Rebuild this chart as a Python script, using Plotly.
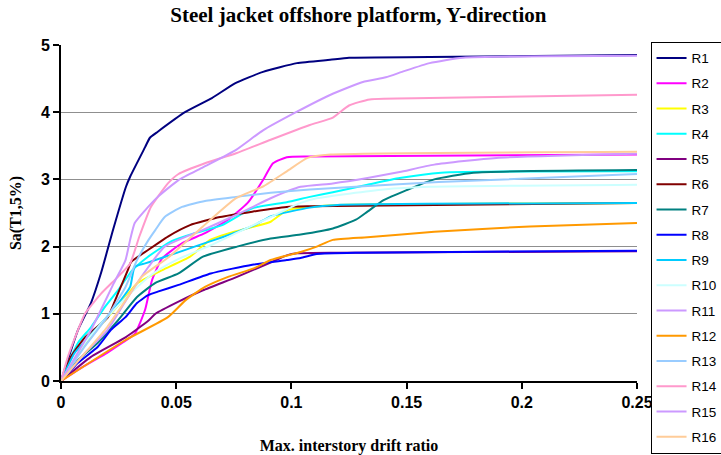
import plotly.graph_objects as go

# Pushover capacity curves: spectral acceleration vs. max interstory drift ratio
r1_drift = [0, 0.0074, 0.013, 0.0174, 0.0226, 0.0282, 0.030, 0.0365, 0.0386, 0.042, 0.0538, 0.0655, 0.0755, 0.0877, 0.1024, 0.1168, 0.125, 0.16, 0.25]
r1_sa = [0, 0.76, 1.16, 1.61, 2.25, 2.89, 3.04, 3.48, 3.62, 3.71, 4.0, 4.21, 4.43, 4.6, 4.73, 4.78, 4.81, 4.82, 4.85]

r2_drift = [0, 0.01, 0.02, 0.0265, 0.032, 0.0365, 0.0395, 0.0438, 0.0525, 0.0625, 0.0725, 0.081, 0.0877, 0.092, 0.098, 0.108, 0.25]
r2_sa = [0, 0.22, 0.42, 0.565, 0.7, 1.06, 1.5, 1.82, 2.05, 2.2, 2.4, 2.65, 2.99, 3.24, 3.33, 3.34, 3.37]

r3_drift = [0, 0.008, 0.016, 0.028, 0.033, 0.044, 0.056, 0.0647, 0.073, 0.083, 0.091, 0.098, 0.108, 0.12, 0.25]
r3_sa = [0, 0.42, 0.78, 1.25, 1.45, 1.65, 1.85, 2.1, 2.2, 2.29, 2.37, 2.54, 2.59, 2.62, 2.65]

r4_drift = [0, 0.0017, 0.0074, 0.013, 0.019, 0.0247, 0.031, 0.0378, 0.048, 0.058, 0.07, 0.083, 0.098, 0.108, 0.118, 0.133, 0.147, 0.165, 0.25]
r4_sa = [0, 0.16, 0.57, 0.8, 1.1, 1.35, 1.65, 1.85, 2.08, 2.2, 2.32, 2.57, 2.66, 2.74, 2.81, 2.92, 3.02, 3.1, 3.12]

r5_drift = [0, 0.013, 0.028, 0.038, 0.041, 0.051, 0.0616, 0.0764, 0.0907, 0.098, 0.1024, 0.12, 0.25]
r5_sa = [0, 0.36, 0.65, 0.9, 1.0, 1.18, 1.35, 1.55, 1.76, 1.87, 1.9, 1.91, 1.93]

r6_drift = [0, 0.0043, 0.0104, 0.019, 0.0204, 0.0247, 0.029, 0.0304, 0.0378, 0.0464, 0.056, 0.069, 0.083, 0.098, 0.108, 0.25]
r6_sa = [0, 0.36, 0.65, 0.9, 0.95, 1.3, 1.65, 1.77, 1.95, 2.15, 2.32, 2.44, 2.52, 2.59, 2.6, 2.65]

r7_drift = [0, 0.0074, 0.016, 0.0247, 0.033, 0.041, 0.051, 0.0616, 0.0764, 0.091, 0.104, 0.118, 0.128, 0.133, 0.14, 0.15, 0.162, 0.179, 0.25]
r7_sa = [0, 0.31, 0.57, 0.9, 1.25, 1.46, 1.6, 1.85, 2.0, 2.12, 2.18, 2.27, 2.4, 2.52, 2.69, 2.84, 3.0, 3.1, 3.14]

r8_drift = [0, 0.0074, 0.016, 0.0217, 0.028, 0.033, 0.038, 0.042, 0.051, 0.065, 0.083, 0.098, 0.104, 0.111, 0.13, 0.25]
r8_sa = [0, 0.27, 0.51, 0.76, 0.95, 1.16, 1.28, 1.33, 1.43, 1.6, 1.73, 1.8, 1.83, 1.89, 1.91, 1.94]

r9_drift = [0, 0.006, 0.016, 0.025, 0.030, 0.032, 0.0365, 0.041, 0.048, 0.058, 0.07, 0.084, 0.091, 0.108, 0.12, 0.25]
r9_sa = [0, 0.42, 0.8, 1.16, 1.4, 1.7, 1.75, 1.8, 1.88, 2.0, 2.14, 2.32, 2.45, 2.58, 2.62, 2.65]

r10_drift = [0, 0.01, 0.02, 0.03, 0.04, 0.05, 0.065, 0.076, 0.091, 0.104, 0.111, 0.14, 0.16, 0.25]
r10_sa = [0, 0.55, 0.95, 1.3, 1.6, 1.8, 2.02, 2.2, 2.44, 2.65, 2.72, 2.85, 2.89, 2.92]

r11_drift = [0, 0.01, 0.02, 0.03, 0.038, 0.045, 0.0616, 0.076, 0.091, 0.104, 0.118, 0.133, 0.147, 0.162, 0.189, 0.25]
r11_sa = [0, 0.4, 0.75, 1.3, 1.7, 2.0, 2.25, 2.47, 2.72, 2.89, 2.94, 3.02, 3.11, 3.22, 3.32, 3.38]

r12_drift = [0, 0.028, 0.0464, 0.054, 0.0625, 0.0725, 0.084, 0.091, 0.104, 0.111, 0.118, 0.133, 0.162, 0.2035, 0.25]
r12_sa = [0, 0.61, 0.95, 1.2, 1.4, 1.55, 1.68, 1.8, 1.92, 2.0, 2.1, 2.14, 2.22, 2.3, 2.35]

r13_drift = [0, 0.01, 0.02, 0.028, 0.033, 0.038, 0.041, 0.045, 0.0525, 0.0625, 0.076, 0.091, 0.108, 0.164, 0.25]
r13_sa = [0, 0.5, 0.95, 1.4, 1.8, 2.1, 2.25, 2.44, 2.59, 2.68, 2.74, 2.8, 2.85, 2.96, 3.08]

r14_drift = [0, 0.003, 0.0074, 0.0104, 0.0174, 0.0247, 0.030, 0.034, 0.039, 0.042, 0.0464, 0.051, 0.0625, 0.076, 0.091, 0.108, 0.118, 0.125, 0.134, 0.16, 0.25]
r14_sa = [0, 0.36, 0.76, 1.0, 1.3, 1.55, 1.75, 2.15, 2.59, 2.74, 2.94, 3.08, 3.24, 3.39, 3.59, 3.81, 3.92, 4.1, 4.19, 4.21, 4.26]

r15_drift = [0, 0.013, 0.023, 0.028, 0.030, 0.032, 0.0365, 0.042, 0.051, 0.0616, 0.076, 0.0877, 0.102, 0.117, 0.131, 0.141, 0.148, 0.16, 0.1745, 0.25]
r15_sa = [0, 0.76, 1.46, 1.8, 2.1, 2.35, 2.54, 2.74, 2.99, 3.18, 3.44, 3.73, 4.0, 4.26, 4.45, 4.52, 4.6, 4.73, 4.81, 4.84]

r16_drift = [0, 0.01, 0.02, 0.03, 0.035, 0.047, 0.0616, 0.076, 0.088, 0.098, 0.107, 0.117, 0.25]
r16_sa = [0, 0.4, 0.8, 1.3, 1.55, 1.85, 2.3, 2.72, 2.9, 3.12, 3.32, 3.37, 3.41]

series_names = ["R1", "R2", "R3", "R4", "R5", "R6", "R7", "R8",
                "R9", "R10", "R11", "R12", "R13", "R14", "R15", "R16"]
series_colors = ["#000080", "#FF00FF", "#FFFF00", "#00FFFF", "#800080", "#800000",
                 "#008080", "#0000FF", "#00CCFF", "#CCFFFF", "#CC99FF", "#FF9900",
                 "#99CCFF", "#FF99CC", "#CC99FF", "#FFCC99"]
series_data = [
    (r1_drift, r1_sa), (r2_drift, r2_sa), (r3_drift, r3_sa), (r4_drift, r4_sa),
    (r5_drift, r5_sa), (r6_drift, r6_sa), (r7_drift, r7_sa), (r8_drift, r8_sa),
    (r9_drift, r9_sa), (r10_drift, r10_sa), (r11_drift, r11_sa), (r12_drift, r12_sa),
    (r13_drift, r13_sa), (r14_drift, r14_sa), (r15_drift, r15_sa), (r16_drift, r16_sa),
]

x_ticks = [0, 0.05, 0.1, 0.15, 0.2, 0.25]
x_tick_text = ["0", "0.05", "0.1", "0.15", "0.2", "0.25"]
y_ticks = [0, 1, 2, 3, 4, 5]

fig = go.Figure()
for name, color, (xs, ys) in zip(series_names, series_colors, series_data):
    fig.add_trace(go.Scatter(
        x=xs, y=ys, name=name, mode="lines", legendgroup=name,
        line=dict(color=color, width=2, shape="spline", smoothing=0.5),
    ))

tick_font = dict(family="Liberation Sans, Arial", size=16, color="black", weight="bold")
title_font = dict(family="Liberation Serif, Times New Roman", size=16, color="black", weight="bold")

fig.update_layout(
    width=721, height=455,
    margin=dict(l=61, r=84, t=45, b=74, autoexpand=False),
    paper_bgcolor="white", plot_bgcolor="white",
    title=dict(
        text="<b>Steel jacket offshore platform, Y-direction</b>",
        x=0.497, xanchor="center", y=0.967, yanchor="middle",
        font=dict(family="Liberation Serif, Times New Roman", size=21, color="black"),
    ),
    xaxis=dict(
        range=[0, 0.25], tickvals=x_ticks, ticktext=x_tick_text,
        showgrid=False, zeroline=False,
        showline=True, linecolor="black", linewidth=2,
        ticks="outside", ticklen=6, tickwidth=2, tickcolor="black",
        tickfont=tick_font,
        title=dict(text="Max. interstory drift ratio", font=title_font, standoff=31),
    ),
    yaxis=dict(
        range=[0, 5], tickvals=y_ticks,
        showgrid=True, gridcolor="#8f8f8f", gridwidth=1,
        zeroline=False,
        showline=True, linecolor="black", linewidth=2,
        ticks="outside", ticklen=6, tickwidth=2, tickcolor="black",
        tickfont=tick_font,
        title=dict(text="Sa(T1,5%)", font=title_font, standoff=15),
    ),
    legend=dict(
        x=1.0235, xanchor="left", y=1.01, yanchor="top",
        bordercolor="black", borderwidth=1, bgcolor="white",
        font=dict(family="Liberation Sans, Arial", size=13.5, color="black"),
        tracegroupgap=4.7, itemwidth=30, maxheight=450,
    ),
    showlegend=True,
)

fig.write_html("out.html")
